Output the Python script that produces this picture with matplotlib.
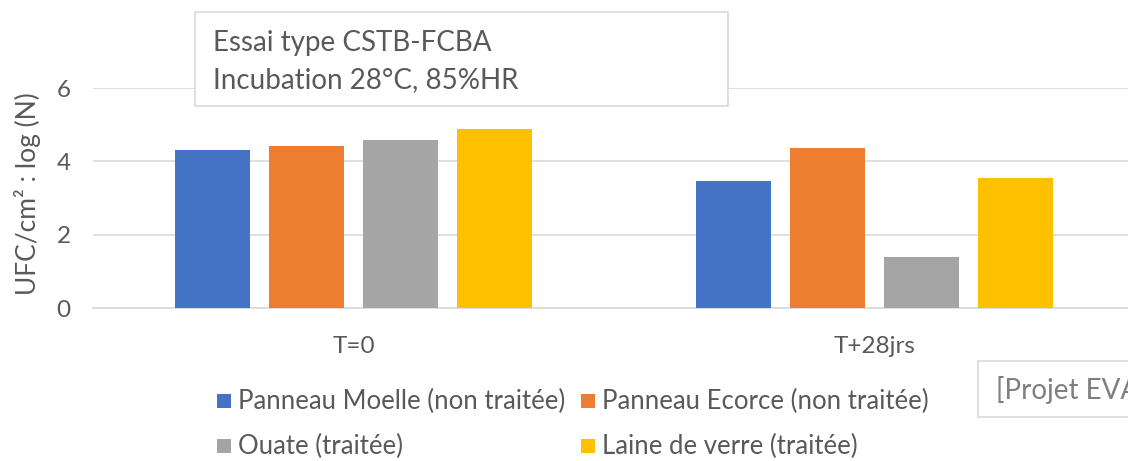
import matplotlib
matplotlib.use("Agg")
import matplotlib.pyplot as plt
import numpy as np
from matplotlib.patches import Rectangle

categories = ["T=0", "T+28jrs"]
series = ["Panneau Moelle (non traitée)", "Panneau Ecorce (non traitée)",
          "Ouate (traitée)", "Laine de verre (traitée)"]
moelle = [4.31, 3.46]
ecorce = [4.42, 4.36]
ouate = [4.58, 1.39]
laine = [4.88, 3.55]
values = [moelle, ecorce, ouate, laine]
colors = ["#4472C4", "#ED7D31", "#A5A5A5", "#FFC000"]
yticks = [0, 2, 4, 6]

plt.rcParams['font.family'] = ['Lato', 'DejaVu Sans']
txt = "#595959"

W, H = 1128, 461
fig = plt.figure(figsize=(W/100, H/100), dpi=100)
ax = fig.add_axes([93/W, (H-308)/H, 1042/W, 220/H])

x = np.arange(len(categories))
step = 0.181
bw = 0.144
for i, (vals, c) in enumerate(zip(values, colors)):
    ax.bar(x + (i - 1.5) * step, vals, width=bw, color=c, zorder=3)

ax.set_xlim(-0.5, 1.5)
ax.set_ylim(0, 6)
ax.set_yticks(yticks)
ax.set_xticks(x)
ax.set_xticklabels(categories)
ax.tick_params(axis='both', length=0, labelsize=17.5, colors=txt)
ax.tick_params(axis='x', pad=20)
ax.tick_params(axis='y', pad=16)
ax.grid(axis='y', color="#D9D9D9", linewidth=1.2, zorder=0)
for s in ["top", "right", "left"]:
    ax.spines[s].set_visible(False)
ax.spines["bottom"].set_color("#D9D9D9")
ax.spines["bottom"].set_linewidth(1.2)
ax.set_ylabel("UFC/cm² : log (N)", fontsize=19, color=txt, labelpad=8)
ax.yaxis.set_label_coords(-52/1042, 0.52)

# text box
fig.patches.append(Rectangle((195/W, 1-106/H), (728-195)/W, (106-12)/H,
                             transform=fig.transFigure, facecolor="white",
                             edgecolor="#D9D9D9", linewidth=1.2, zorder=5))
fig.text(213/W, 1-43/H, "Essai type CSTB-FCBA", fontsize=20, color=txt,
         va='center', ha='left', zorder=6)
fig.text(213/W, 1-80/H, "Incubation 28°C, 85%HR", fontsize=20, color=txt,
         va='center', ha='left', zorder=6)

# Projet box (clipped by the figure edge, as in the reference)
fig.patches.append(Rectangle((978/W, 1-417/H), 200/W, (417-361)/H,
                             transform=fig.transFigure, facecolor="white",
                             edgecolor="#D9D9D9", linewidth=1.2, zorder=5))
fig.text(996/W, 1-390/H, "[Projet EVA]", fontsize=20, color="#7F7F7F",
         va='center', ha='left', zorder=6)

# legend
leg_pos = [(217, 401), (581, 401), (217, 446), (581, 446)]
for (lx, ly), name, c in zip(leg_pos, series, colors):
    fig.patches.append(Rectangle((lx/W, 1-(ly+7)/H), 14/W, 14/H,
                                 transform=fig.transFigure, facecolor=c,
                                 edgecolor='none'))
    fig.text((lx+21)/W, 1-ly/H, name, fontsize=18.5, color=txt,
             va='center', ha='left')

fig.savefig("out.png", dpi=100)
